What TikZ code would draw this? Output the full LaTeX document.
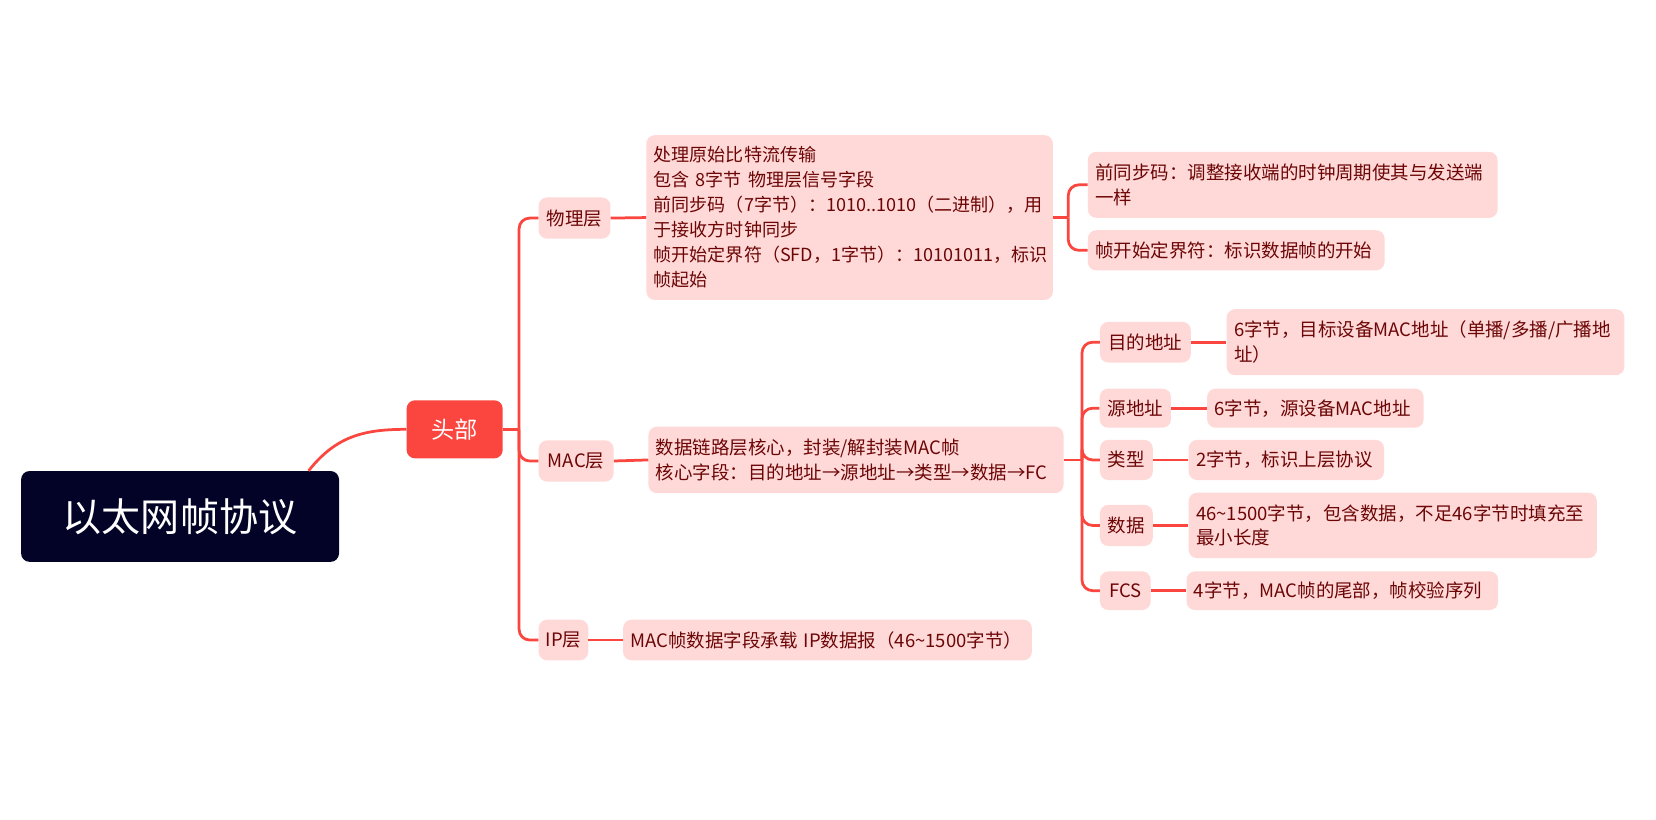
\documentclass[tikz,border=0pt]{standalone}
\usepackage{fontspec}
\setmainfont{Noto Sans CJK SC}
\usetikzlibrary{calc}
\definecolor{rootc}{RGB}{2,3,38}
\definecolor{redc}{RGB}{250,70,62}
\definecolor{pk}{RGB}{255,217,216}
\definecolor{dk}{RGB}{108,6,6}
\newcommand{\fs}{\fontsize{17.5}{23.5}\selectfont}
\newcommand{\tl}{{\char"7E}}
\begin{document}
\begin{tikzpicture}[x=1pt,y=-1pt,
  conn/.style={draw=redc,line width=2.6pt},
  small/.style={fill=pk,rounded corners=8pt,text=dk,font=\fs,inner sep=0pt,anchor=center},
  tbox/.style={fill=pk,rounded corners=8pt,text=dk,font=\fs,inner xsep=7pt,inner ysep=0pt,align=left,anchor=center}]
\useasboundingbox (0,0) rectangle (1568,775.5);
\fill[white] (0,0) rectangle (1568,775.5);
% nodes
\node[fill=rootc,rounded corners=8pt,text=white,font=\fontsize{37}{42}\selectfont,minimum width=301pt,minimum height=86pt,inner sep=0pt] (root) at (170.5,489) {以太网帧协议};
\node[fill=redc,rounded corners=8pt,text=white,font=\fontsize{22}{26}\selectfont,minimum width=91pt,minimum height=55pt,inner sep=0pt] (toubu) at (430.5,406.5) {头部};
\node[small,minimum width=68pt,minimum height=39pt] (wuli) at (544,206.5) {物理层};
\node[small,minimum width=71pt,minimum height=39pt] (mac) at (545.5,436.5) {MAC层};
\node[small,minimum width=47pt,minimum height=38.5pt] (ip) at (533.5,606) {IP层};
\node[tbox,font=\fontsize{17.1}{23.7}\selectfont,text width=371pt,minimum height=156pt] (phys) at (804.5,206) {处理原始比特流传输\\包含 8字节 物理层信号字段\\前同步码（7字节）：1010..1010（二进制），用\\于接收方时钟同步\\帧开始定界符（SFD，1字节）：10101011，标识\\帧起始};
\node[tbox,text width=379pt,minimum height=63pt] (macb) at (810.5,435.5) {数据链路层核心，封装/解封装MAC帧\\核心字段：目的地址→源地址→类型→数据→FC};
\node[tbox,text width=373pt,minimum height=38.5pt] (ipb) at (783.5,606) {MAC帧数据字段承载 IP数据报（46\tl 1500字节）};
\node[tbox,text width=374pt,minimum height=62.5pt] (pre) at (1224,175) {前同步码：调整接收端的时钟周期使其与发送端\\一样};
\node[tbox,text width=267pt,minimum height=38pt] (sfd) at (1170.5,237) {帧开始定界符：标识数据帧的开始};
\node[small,minimum width=86pt,minimum height=38.5pt] (dst) at (1084.5,324) {目的地址};
\node[tbox,text width=362.5pt,minimum height=62.5pt] (dstt) at (1349.75,324) {6字节，目标设备MAC地址（单播/多播/广播地\\址）};
\node[small,minimum width=67.5pt,minimum height=37pt] (src) at (1075,386.5) {源地址};
\node[tbox,text width=191pt,minimum height=37pt] (srct) at (1245.5,386.5) {6字节，源设备MAC地址};
\node[small,minimum width=50pt,minimum height=38pt] (typ) at (1066.5,435.5) {类型};
\node[tbox,text width=171pt,minimum height=38pt] (typt) at (1218,435.5) {2字节，标识上层协议};
\node[small,minimum width=50pt,minimum height=39pt] (dat) at (1066.5,497.5) {数据};
\node[tbox,text width=372.5pt,minimum height=62pt] (datt) at (1318.75,497.5) {46\tl 1500字节，包含数据，不足46字节时填充至\\最小长度};
\node[small,minimum width=48pt,minimum height=36.6pt] (fcs) at (1065.5,559.3) {FCS};
\node[tbox,text width=281pt,minimum height=36.6pt] (fcst) at (1271,559.3) {4字节，MAC帧的尾部，帧校验序列};
% spines
\coordinate (s1) at (491.5,406.5);
\coordinate (s2) at (1011.5,206);
\coordinate (s3) at (1024.5,435.5);
% connectors
\draw[conn] ([xshift=-29pt]root.north east) .. controls +(26,-33) and +(-40,0) .. (toubu.west);
\draw[conn] (toubu.east) -- (s1);
\draw[conn,rounded corners=10pt] (s1) |- (wuli.west);
\draw[conn,rounded corners=10pt] (s1) |- (mac.west);
\draw[conn,rounded corners=10pt] (s1) |- (ip.west);
\draw[conn] (wuli.east) -- (phys.west);
\draw[conn] (mac.east) -- (macb.west);
\draw[conn] (ip.east) -- (ipb.west);
\draw[conn] (phys.east) -- (s2);
\draw[conn,rounded corners=10pt] (s2) |- (pre.west);
\draw[conn,rounded corners=10pt] (s2) |- (sfd.west);
\draw[conn] (macb.east) -- (s3);
\foreach \t in {dst,src,typ,dat,fcs}{\draw[conn,rounded corners=10pt] (s3) |- (\t.west);}
\draw[conn] (dst.east) -- (dstt.west);
\draw[conn] (src.east) -- (srct.west);
\draw[conn] (typ.east) -- (typt.west);
\draw[conn] (dat.east) -- (datt.west);
\draw[conn] (fcs.east) -- (fcst.west);
\end{tikzpicture}
\end{document}
